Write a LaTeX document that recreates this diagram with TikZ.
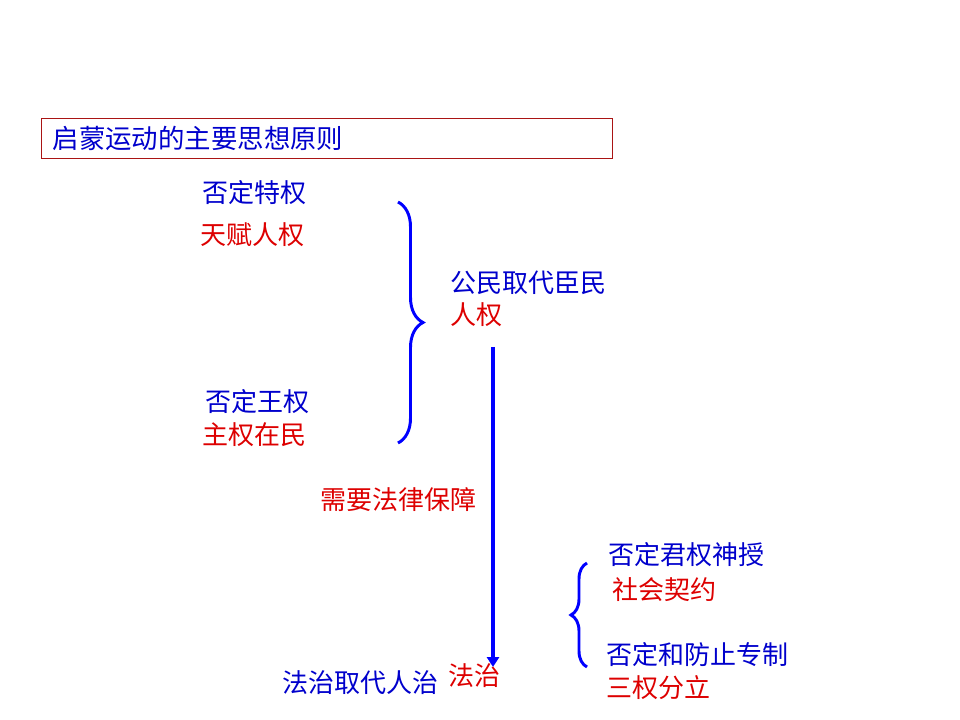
\documentclass[tikz,border=0pt]{standalone}
\usepackage{fontspec}
\setmainfont{Noto Sans CJK SC}
\usetikzlibrary{arrows.meta, decorations.pathreplacing, positioning}
\definecolor{tblue}{RGB}{0,0,204}
\definecolor{tred}{RGB}{221,0,0}
\definecolor{boxred}{RGB}{170,20,20}

\begin{document}
\begin{tikzpicture}[
  x=0.025cm, y=-0.025cm,
  bt/.style={anchor=west, inner sep=0pt, text=tblue, font=\fontsize{18.5}{20}\selectfont},
  rt/.style={bt, text=tred},
  brc/.style={draw=blue, line width=2.1pt, decorate, decoration={brace, amplitude=#1}},
  flow/.style={draw=blue, line width=2.8pt, -{Triangle[length=7pt,width=8.5pt]}}
  ]
  \useasboundingbox (0,0) rectangle (960,720);
  % title
  \node[draw=boxred, line width=0.8pt, anchor=north west, text=tblue,
        font=\fontsize{18.8}{22}\selectfont, inner xsep=0.275cm, inner ysep=0pt,
        text width=13.725cm, minimum height=1cm, align=left] (title) at (41,118) {启蒙运动的主要思想原则};
  % upper group
  \node[bt] (tq) at (202,193) {否定特权};
  \node[rt] (tr) at (200,235) {天赋人权};
  \node[bt] (wq) at (205,402) {否定王权};
  \node[rt] (zq) at (202,435) {主权在民};
  \coordinate (b1t) at (398,202);
  \coordinate (b1b) at (398,443);
  \draw[brc=0.625cm] (b1t) -- (b1b);
  \node[bt] (gm) at (450,283) {公民取代臣民};
  \node[rt] (rq) at (450,315) {人权};
  % arrow down
  \coordinate (atop) at (493,347);
  \coordinate (abot) at (493,667);
  \draw[flow] (atop) -- (abot);
  \node[rt] (fl) at (320,500) {需要法律保障};
  \node[bt] (fz) at (282,683) {法治取代人治};
  \node[rt] (fzr) at (448,676) {法治};
  % lower group
  \coordinate (b2t) at (587,563);
  \coordinate (b2b) at (587,667);
  \draw[brc=0.4cm] (b2b) -- (b2t);
  \node[bt] (js) at (608,555) {否定君权神授};
  \node[rt] (sh) at (612,590) {社会契约};
  \node[bt] (zz) at (606,655) {否定和防止专制};
  \node[rt] (sq) at (606,688) {三权分立};
\end{tikzpicture}
\end{document}
